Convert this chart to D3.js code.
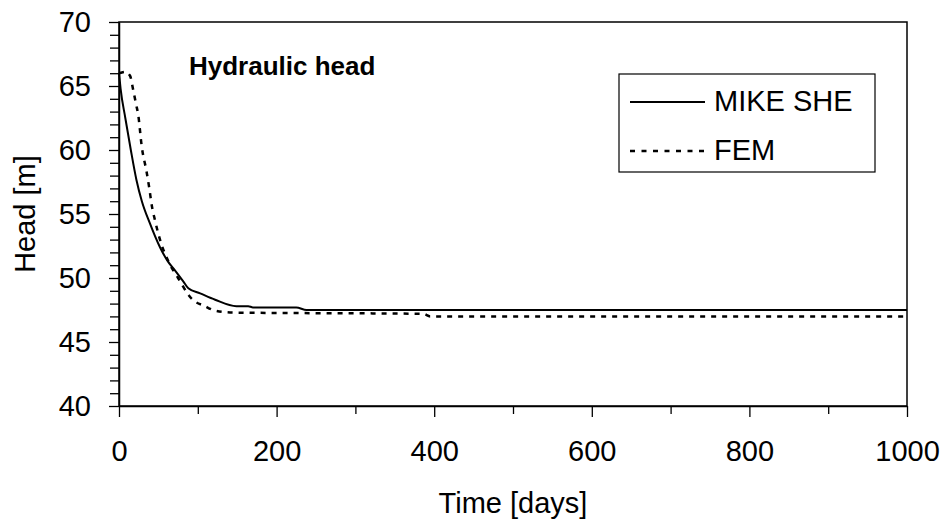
<!DOCTYPE html>
<html>
<head>
<meta charset="utf-8">
<script src="https://cdn.jsdelivr.net/npm/d3@7"></script>
<style>
	body { margin: 0; background: #fff; }
	svg { display: block; font-family: Arial, "Liberation Sans", sans-serif; }
	.axis path, .axis line { stroke: #000; }
</style>
</head>
<body>
<svg id="chart" width="944" height="521"></svg>
<script>
// series: [days, head]
var mikeShe = [
	[0, 66], [2, 64.8], [8, 62.5], [15, 60], [22, 57.7], [29, 56.0], [39, 54.3],
	[52, 52.4], [62, 51.3], [71, 50.6], [82, 49.7], [88, 49.2], [103, 48.8],
	[122, 48.3], [149, 47.8], [164, 47.8], [170, 47.7], [225, 47.7], [238, 47.5],
	[1000, 47.5]
];
var fem = [
	[0, 66], [8, 66.1], [14, 65.8], [18, 64.7], [21.6, 63.6], [24.5, 62.7],
	[28.8, 60.3], [35, 58.3], [38.5, 57.0], [41.5, 55.7], [45.7, 54.5], [52, 53.0],
	[62.6, 51.3], [75, 50.0], [88, 48.7], [92, 48.4], [109, 47.8], [122, 47.45],
	[145, 47.3], [386, 47.2], [395, 47.0], [1000, 47.0]
];
var seriesNames = ['MIKE SHE', 'FEM'];
var xTicks = d3.range(0, 1001, 100);
var yTicks = d3.range(40, 71, 1);

var margin = {top: 22, right: 37, bottom: 115, left: 119};
var width = 944 - margin.left - margin.right,
	height = 521 - margin.top - margin.bottom;
var fontSize = 29;

var svg = d3.select('#chart');
var g = svg.append('g')
	.attr('transform', 'translate(' + margin.left + ',' + margin.top + ')');

var x = d3.scaleLinear().domain([0, 1000]).range([0, width]);
var y = d3.scaleLinear().domain([40, 70]).range([height, 0]);

// plot frame
g.append('rect')
	.attr('width', width)
	.attr('height', height)
	.attr('fill', 'none')
	.attr('stroke', '#000')
	.attr('stroke-width', 1.5);

// x axis
var xAxis = g.append('g')
	.attr('class', 'axis')
	.attr('transform', 'translate(0,' + height + ')')
	.call(d3.axisBottom(x).tickValues(xTicks).tickSizeOuter(0)
		.tickFormat(function(d){ return d % 200 === 0 ? d : ''; }));
xAxis.select('.domain').attr('stroke-width', 1.5);
xAxis.selectAll('.tick line')
	.attr('stroke-width', 1.3)
	.attr('y2', function(d){ return d % 200 === 0 ? 11 : 8; });
xAxis.selectAll('.tick text')
	.attr('y', 34)
	.attr('dy', '0.72em')
	.attr('fill', '#000')
	.style('font-size', fontSize + 'px');

// y axis
var yAxis = g.append('g')
	.attr('class', 'axis')
	.call(d3.axisLeft(y).tickValues(yTicks).tickSizeOuter(0)
		.tickFormat(function(d){ return d % 5 === 0 ? d : ''; }));
yAxis.select('.domain').attr('stroke-width', 1.5);
yAxis.selectAll('.tick line')
	.attr('stroke-width', 1.3)
	.attr('x2', function(d){ return d % 5 === 0 ? -10 : -9; });
yAxis.selectAll('.tick text')
	.attr('x', -28)
	.attr('fill', '#000')
	.style('font-size', fontSize + 'px');

// axis titles
svg.append('text')
	.attr('x', margin.left + width / 2)
	.attr('y', 513)
	.attr('text-anchor', 'middle')
	.style('font-size', fontSize + 'px')
	.text('Time [days]');

svg.append('text')
	.attr('transform', 'translate(35,' + (margin.top + height / 2) + ') rotate(-90)')
	.attr('text-anchor', 'middle')
	.style('font-size', fontSize + 'px')
	.text('Head [m]');

// chart title inside the plot
g.append('text')
	.attr('x', 70)
	.attr('y', 53)
	.style('font-size', '26px')
	.style('font-weight', 'bold')
	.text('Hydraulic head');

var line = d3.line()
	.curve(d3.curveMonotoneX)
	.x(function(d){ return x(d[0]); })
	.y(function(d){ return y(d[1]); });

g.append('path')
	.datum(fem)
	.attr('fill', 'none')
	.attr('stroke', '#000')
	.attr('stroke-width', 2.5)
	.attr('stroke-dasharray', '5,6')
	.attr('d', line);

g.append('path')
	.datum(mikeShe)
	.attr('fill', 'none')
	.attr('stroke', '#000')
	.attr('stroke-width', 2)
	.attr('d', line);

// legend
var legend = svg.append('g').attr('transform', 'translate(619,74)');
legend.append('rect')
	.attr('width', 256)
	.attr('height', 98)
	.attr('fill', '#fff')
	.attr('stroke', '#000')
	.attr('stroke-width', 1.2);

var items = legend.selectAll('g.item')
	.data(seriesNames)
	.enter().append('g')
	.attr('class', 'item')
	.attr('transform', function(d, i){ return 'translate(0,' + (28 + i * 49) + ')'; });

items.append('line')
	.attr('x1', 11)
	.attr('x2', 86)
	.attr('stroke', '#000')
	.attr('stroke-width', function(d, i){ return i === 0 ? 2 : 2.5; })
	.attr('stroke-dasharray', function(d, i){ return i === 0 ? null : '5,6.5'; });

items.append('text')
	.attr('x', 95)
	.attr('y', 9)
	.style('font-size', fontSize + 'px')
	.text(function(d){ return d; });
</script>
</body>
</html>
